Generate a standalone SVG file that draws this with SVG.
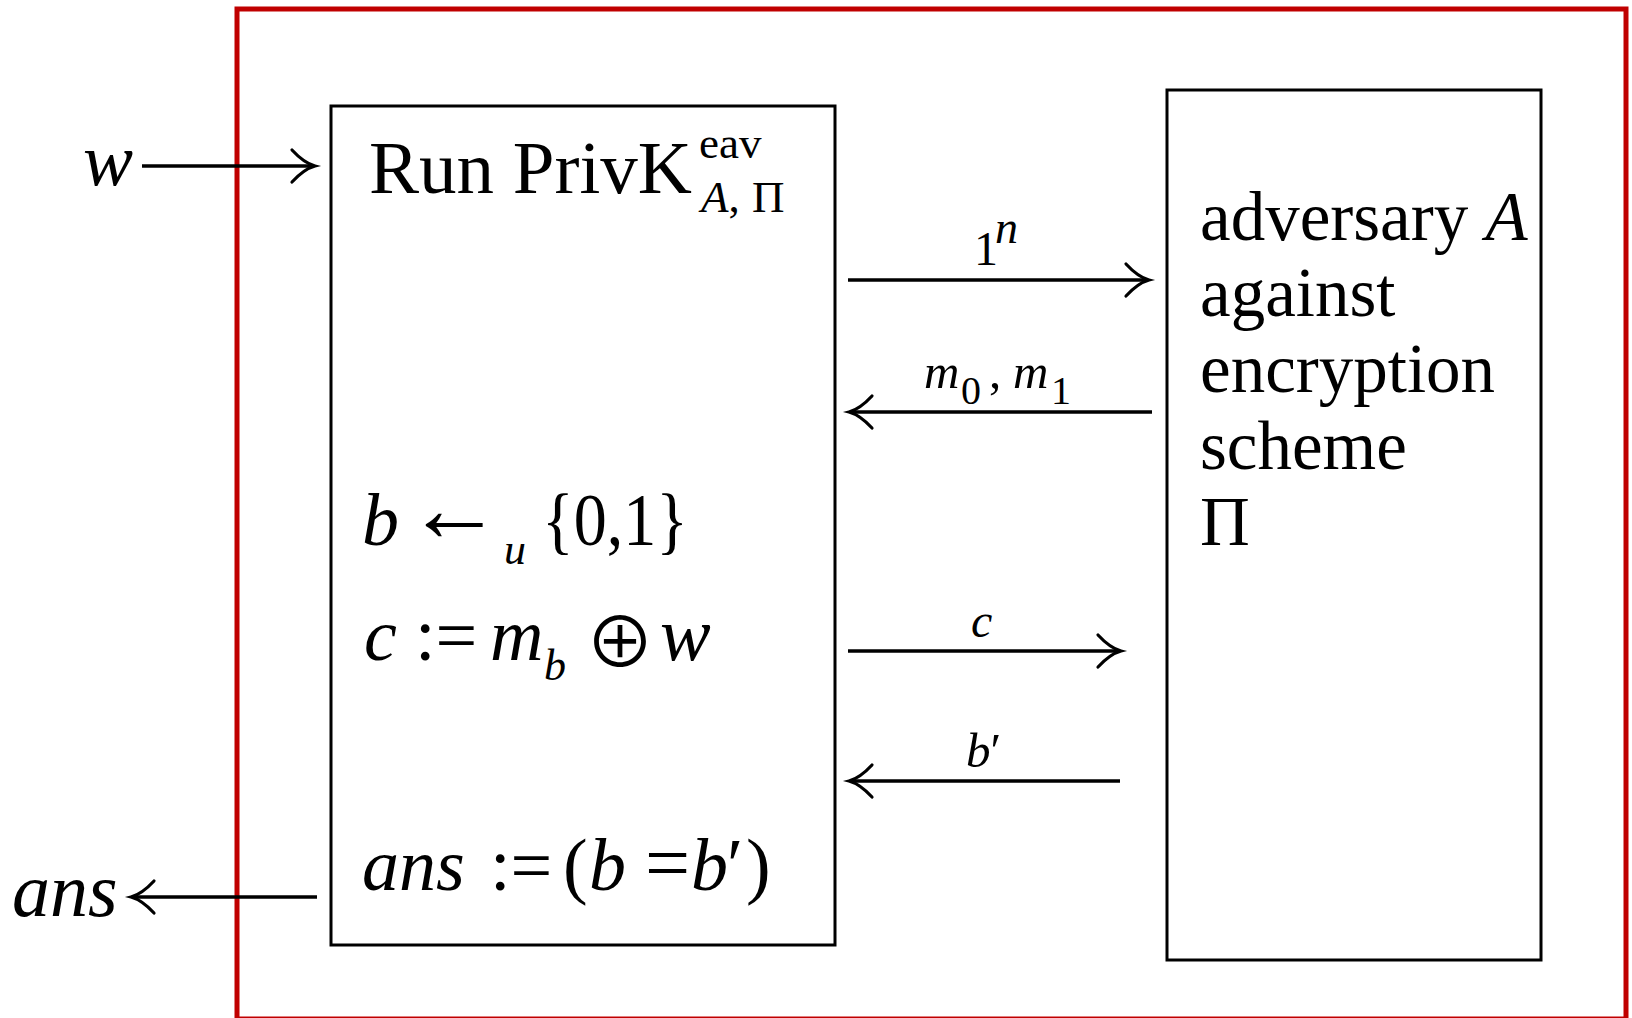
<svg xmlns="http://www.w3.org/2000/svg" width="1632" height="1018" viewBox="0 0 1632 1018">
<defs>
<style>
.t{font-family:"Liberation Serif","Times New Roman",serif;fill:#000}
.i{font-style:italic}
.op{font-family:"Noto Sans CJK JP","Liberation Serif",serif;fill:#000}
.box{fill:none;stroke:#000;stroke-width:3}
.ln{fill:none;stroke:#000;stroke-width:3.5;marker-end:url(#ah)}
</style>
<marker id="ah" markerUnits="userSpaceOnUse" viewBox="-26 -20 30 40" refX="0" refY="0" markerWidth="30" markerHeight="40" orient="auto" overflow="visible">
<path d="M-22,-16 Q-10,-3 1,0 Q-10,3 -22,16" fill="none" stroke="#000" stroke-width="3.2" stroke-linecap="round"/>
</marker>
</defs>
<rect width="1632" height="1018" fill="#fff"/>
<rect id="frame" x="237" y="9" width="1389" height="1010" fill="none" stroke="#C00000" stroke-width="5"/>

<g id="challenger">
<rect class="box" x="331" y="106" width="504" height="839"/>
<text class="t" x="369" y="193" font-size="75">Run PrivK</text>
<text class="t" x="699" y="158" font-size="45">eav</text>
<text class="t" x="701" y="212" font-size="45"><tspan class="i">A</tspan>,<tspan x="752">Π</tspan></text>
<text class="t i" x="362" y="545" font-size="74">b</text>
<text class="t" x="406" y="541" font-size="96">←</text>
<text class="t i" x="504" y="564" font-size="44">u</text>
<text class="t" x="542" y="545" font-size="74" textLength="146" lengthAdjust="spacingAndGlyphs">{0,1}</text>
<text class="t" font-size="74" y="660"><tspan class="i" x="364">c</tspan><tspan x="415">:=</tspan><tspan class="i" x="490">m</tspan></text>
<text class="t i" x="544" y="680" font-size="44">b</text>
<text class="op" x="585" y="668" font-size="70">⊕</text>
<text class="t i" x="660" y="660" font-size="76">w</text>
<text class="t" font-size="74" y="890"><tspan class="i" x="362">ans</tspan><tspan x="490">:=</tspan><tspan x="563">(</tspan><tspan class="i" x="589">b</tspan><tspan x="645" font-size="80">=</tspan><tspan class="i" x="691" font-size="74">b</tspan><tspan x="727">′</tspan><tspan x="746">)</tspan></text>
</g>

<g id="adversary">
<rect class="box" x="1167" y="90" width="374" height="870"/>
<text class="t" font-size="69" x="1200">
<tspan x="1200" y="240">adversary <tspan class="i">A</tspan></tspan>
<tspan x="1200" y="316">against</tspan>
<tspan x="1200" y="392">encryption</tspan>
<tspan x="1200" y="469">scheme</tspan>
<tspan x="1200" y="545">Π</tspan>
</text>
</g>

<g id="io">
<text class="t i" x="83" y="185" font-size="75">w</text>
<text class="t i" x="12" y="916" font-size="76">ans</text>
</g>

<g id="connectors">
<line class="ln" x1="142" y1="166" x2="314" y2="166"/>
<line class="ln" x1="317" y1="897" x2="132" y2="897"/>
<line class="ln" x1="848" y1="280" x2="1148" y2="280"/>
<line class="ln" x1="1152" y1="412" x2="850" y2="412"/>
<line class="ln" x1="848" y1="651" x2="1120" y2="651"/>
<line class="ln" x1="1120" y1="781" x2="850" y2="781"/>
<text class="t" x="974" y="265" font-size="48">1<tspan class="i" x="995" dy="-22" font-size="46">n</tspan></text>
<text class="t" y="388" font-size="49"><tspan class="i" x="924">m</tspan><tspan x="961" dy="16" font-size="40">0</tspan><tspan x="989" dy="-16">,</tspan><tspan class="i" x="1013">m</tspan><tspan x="1051" dy="16" font-size="40">1</tspan></text>
<text class="t i" x="971" y="637" font-size="48">c</text>
<text class="t i" x="966" y="767" font-size="49">b<tspan font-style="normal">′</tspan></text>
</g>
</svg>
